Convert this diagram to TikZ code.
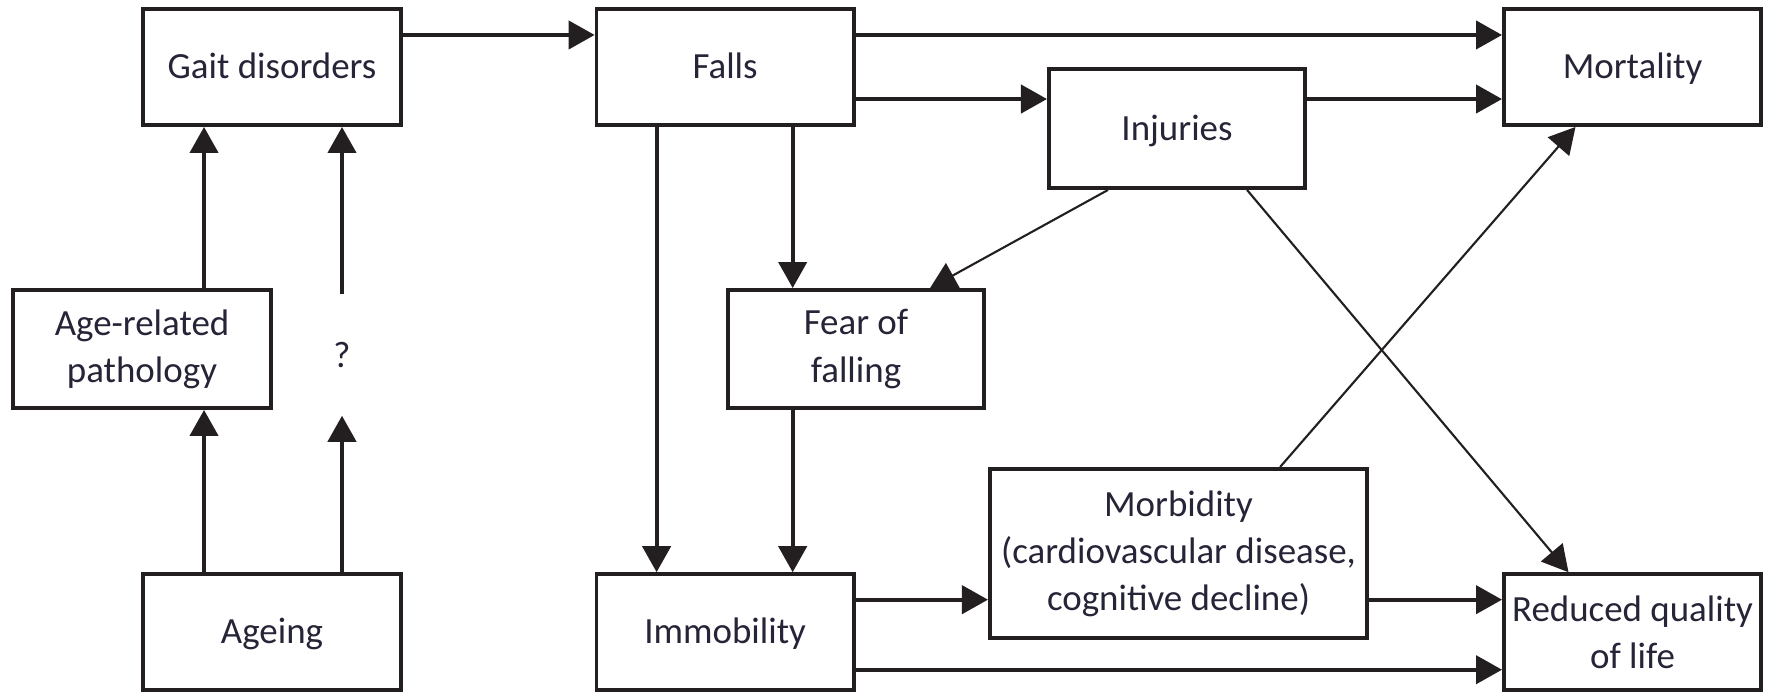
\documentclass[tikz,border=0pt]{standalone}
\usepackage{fontspec}
\setmainfont{Carlito}
\usepackage{xcolor}
\usetikzlibrary{arrows.meta,positioning}
\definecolor{lineblack}{RGB}{35,31,32}
\definecolor{textnavy}{RGB}{38,37,56}

\begin{document}
\begin{tikzpicture}[
    x=0.01cm, y=-0.01cm,
    node distance=1.92cm,
    box/.style={rectangle, draw=lineblack, line width=1.1pt, fill=white, text=textnavy, minimum width=2.57cm, minimum height=1.16cm, inner sep=1pt, align=center, font=\fontsize{10.5}{13.4}\selectfont},
    oneline/.style={box, text height=8pt, text depth=1.3pt},
    arr/.style={-{Triangle[length=7.4pt,width=8pt]}, line width=1.1pt, draw=lineblack},
    thinarr/.style={arr, line width=0.6pt}
]
\useasboundingbox[fill=white] (0,0) rectangle (1767,691);

% top row
\node[oneline] (gait) at (272,67) {Gait disorders};
\node[oneline, right=of gait] (falls) {Falls};
\node[oneline, right=6.46cm of falls] (mort) {Mortality};
\node[oneline, minimum width=2.56cm, minimum height=1.19cm] (inj) at (1177,128.5) {Injuries};

% middle row
\node[box, minimum width=2.58cm, minimum height=1.18cm] (agerel) at (142,349) {Age-related\\pathology};
\node[text=textnavy, font=\fontsize{10.5}{13.4}\selectfont, minimum height=1.2cm, inner sep=0pt] (q) at (342,355) {?};
\node[box, minimum width=2.56cm, minimum height=1.18cm] (fear) at (856,349) {Fear of\\falling};
\node[box, minimum width=3.77cm, minimum height=1.69cm] (morb) at (1178.5,553.5) {Morbidity\\(cardiovascular disease,\\cognitive decline)};

% bottom row
\node[oneline, below=4.45cm of gait] (ageing) {Ageing};
\node[oneline, below=4.45cm of falls] (immob) {Immobility};
\node[box, below=4.45cm of mort] (reduced) {Reduced quality\\of life};

% anchor points for the straight connectors
\coordinate (g1) at ([yshift=3.2mm]gait.east);
\coordinate (f1) at ([yshift=3.2mm]falls.east);
\coordinate (f2) at ([yshift=-3.2mm]falls.east);
\coordinate (f3) at ([xshift=-6.85mm]falls.south);
\coordinate (f4) at ([xshift=6.75mm]falls.south);
\coordinate (a1) at ([xshift=6.2mm]agerel.north);
\coordinate (i1) at ([yshift=3.25mm]immob.east);
\coordinate (i2) at ([yshift=-3.75mm]immob.east);

\draw[arr] (g1) -- (g1 -| falls.west);
\draw[arr] (f1) -- (f1 -| mort.west);
\draw[arr] (f2) -- (f2 -| inj.west);
\draw[arr] (f2 -| inj.east) -- (f2 -| mort.west);

\draw[arr] (a1) -- (a1 |- gait.south);
\draw[arr] (a1 |- ageing.north) -- (a1 |- agerel.south);
\draw[arr] (q.north) -- (q |- gait.south);
\draw[arr] (q |- ageing.north) -- (q.south);

\draw[arr] (f3) -- (f3 |- immob.north);
\draw[arr] (f4) -- (f4 |- fear.north);
\draw[arr] (f4 |- fear.south) -- (f4 |- immob.north);

\draw[arr] (i1) -- (i1 -| morb.west);
\draw[arr] (i1 -| morb.east) -- (i1 -| reduced.west);
\draw[arr] (i2) -- (i2 -| reduced.west);

% crossing lines
\draw[thinarr] ([xshift=-6.9mm]inj.south) -- ([xshift=7.4mm]fear.north);
\draw[thinarr] ([xshift=7mm]inj.south) -- ([xshift=-6.4mm]reduced.north);
\draw[thinarr] ([xshift=10.15mm]morb.north) -- ([xshift=-5.7mm]mort.south);
\end{tikzpicture}
\end{document}
